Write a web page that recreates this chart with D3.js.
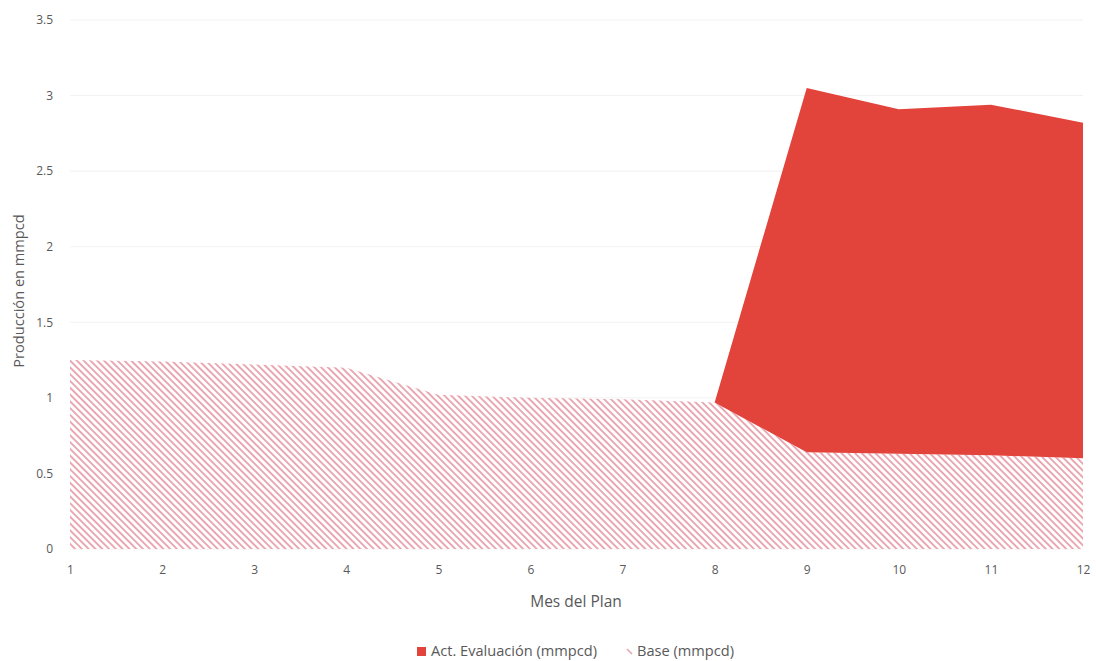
<!DOCTYPE html>
<html>
<head>
<meta charset="utf-8">
<script src="https://cdn.jsdelivr.net/npm/d3@7"></script>
<style>
  html, body { margin: 0; padding: 0; background: #ffffff; }
  svg { display: block; }
  text { font-family: "Open Sans", "Liberation Sans", sans-serif; fill: #595959; }
</style>
</head>
<body>
<svg id="chart" width="1096" height="661"></svg>
<script>
// Monthly production plan (mmpcd)
const months = [1, 2, 3, 4, 5, 6, 7, 8, 9, 10, 11, 12];
const baseValues = [1.25, 1.24, 1.22, 1.20, 1.02, 1.00, 0.99, 0.97, 0.64, 0.63, 0.62, 0.60];
const evaluacionValues = [0, 0, 0, 0, 0, 0, 0, 0, 2.41, 2.28, 2.32, 2.22];
const yTicks = [0, 0.5, 1, 1.5, 2, 2.5, 3, 3.5];
const seriesNames = ["Base (mmpcd)", "Act. Evaluación (mmpcd)"];

const svg = d3.select("#chart");
const margin = { left: 70, right: 13, top: 20, bottom: 112 };
const W = 1096, H = 661;

const x = d3.scaleLinear().domain([1, 12]).range([margin.left, W - margin.right]);
const y = d3.scaleLinear().domain([0, 3.5]).range([H - margin.bottom, margin.top]);

// Diagonal hatch for the base series
const defs = svg.append("defs");
const pat = defs.append("pattern")
  .attr("id", "hatch")
  .attr("patternUnits", "userSpaceOnUse")
  .attr("width", 4.8).attr("height", 10)
  .attr("patternTransform", "rotate(-45)");
pat.append("rect").attr("width", 4.8).attr("height", 10).attr("fill", "#ffffff");
pat.append("rect").attr("width", 1.9).attr("height", 10).attr("fill", "#e9a6b0");

// Gridlines
svg.append("g")
  .selectAll("line")
  .data(yTicks)
  .join("line")
  .attr("x1", margin.left).attr("x2", W - margin.right)
  .attr("y1", d => y(d)).attr("y2", d => y(d))
  .attr("stroke", "#f2f2f2").attr("stroke-width", 1);

// Stacked series
const rows = months.map((m, i) => ({ month: m, base: baseValues[i], evaluacion: evaluacionValues[i] }));
const stacked = d3.stack().keys(["base", "evaluacion"])(rows);

const area = d3.area()
  .x(d => x(d.data.month))
  .y0(d => y(d[0]))
  .y1(d => y(d[1]));

svg.append("path")
  .datum(stacked[0])
  .attr("d", area)
  .attr("fill", "url(#hatch)");

// Evaluation layer only where it has thickness
const evalPts = stacked[1].filter((d, i) => i >= 7);
svg.append("path")
  .datum(evalPts)
  .attr("d", area)
  .attr("fill", "#e2433b");

// Y axis labels
const yAxis = d3.axisLeft(y).tickValues(yTicks).tickSize(0).tickPadding(0)
  .tickFormat(d => String(d));
const gy = svg.append("g").attr("transform", `translate(${margin.left - 17},0)`).call(yAxis);
gy.select(".domain").remove();
gy.selectAll("text").attr("font-size", 12).attr("fill", "#595959")
  .style("font-family", '"Open Sans", "Liberation Sans", sans-serif');

// X axis labels
const xAxis = d3.axisBottom(x).tickValues(months).tickSize(0).tickPadding(0)
  .tickFormat(d => String(d));
const gx = svg.append("g").attr("transform", `translate(0,${H - margin.bottom + 16})`).call(xAxis);
gx.select(".domain").remove();
gx.selectAll("text").attr("font-size", 12).attr("fill", "#595959")
  .style("font-family", '"Open Sans", "Liberation Sans", sans-serif');

// Axis titles
svg.append("text")
  .attr("x", 576)
  .attr("y", 607)
  .attr("text-anchor", "middle")
  .attr("font-size", 15.5)
  .text("Mes del Plan");

svg.append("text")
  .attr("transform", "translate(24,291) rotate(-90)")
  .attr("text-anchor", "middle")
  .attr("font-size", 14.6)
  .text("Producción en mmpcd");

// Legend
const legend = svg.append("g").attr("transform", "translate(417,656)");
legend.append("rect").attr("x", 0).attr("y", -9).attr("width", 9).attr("height", 9).attr("fill", "#e2433b");
legend.append("text").attr("x", 14).attr("y", 0).attr("font-size", 14.6).text(seriesNames[1]);
legend.append("line")
  .attr("x1", 210).attr("y1", -7).attr("x2", 215).attr("y2", -2)
  .attr("stroke", "#e9a6b0").attr("stroke-width", 1.6);
legend.append("text").attr("x", 220).attr("y", 0).attr("font-size", 14.6).text(seriesNames[0]);
</script>
</body>
</html>
